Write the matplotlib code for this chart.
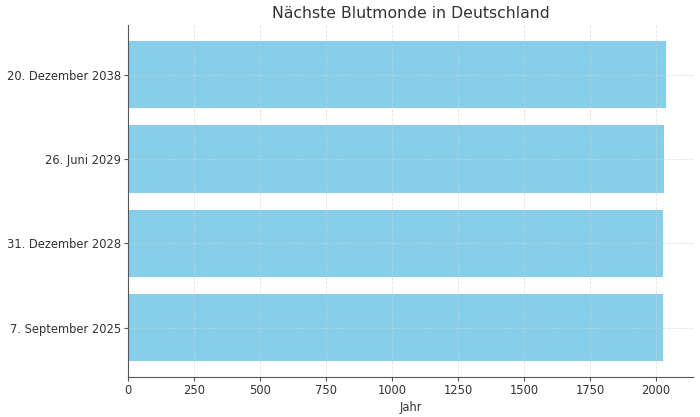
import matplotlib
matplotlib.use("Agg")
import matplotlib.pyplot as plt

dates = ["7. September 2025", "31. Dezember 2028", "26. Juni 2029", "20. Dezember 2038"]
years = [2025, 2028, 2029, 2038]

fig, ax = plt.subplots(figsize=(7, 4.17), dpi=100)
ax.barh(dates, years, color="skyblue", height=0.8)
ax.set_title("Nächste Blutmonde in Deutschland", fontsize=11.3, color="#333333", pad=5)
ax.set_xlabel("Jahr", fontsize=8.3, color="#333333", labelpad=3)
ax.grid(True, linestyle="--", linewidth=0.6, color="#d0d0d0", alpha=0.6)
ax.set_axisbelow(False)
for s in ["top", "right"]:
    ax.spines[s].set_visible(False)
for s in ["left", "bottom"]:
    ax.spines[s].set_color("#555555")
    ax.spines[s].set_zorder(5)
ax.tick_params(colors="#555555", labelcolor="#333333", labelsize=8.3, length=3, pad=2)
fig.subplots_adjust(left=0.183, right=0.99, top=0.94, bottom=0.095)
fig.savefig("out.png")
